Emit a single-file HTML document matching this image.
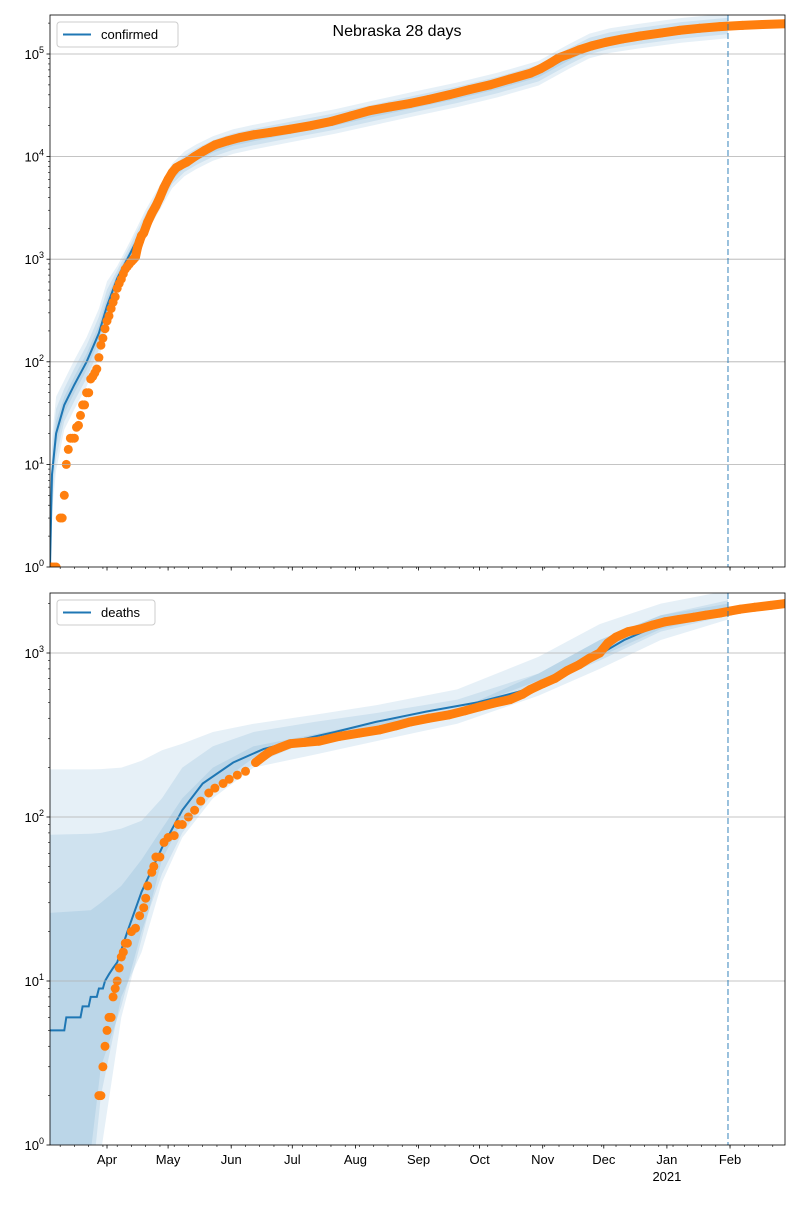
<!DOCTYPE html>
<html><head><meta charset="utf-8"><style>
body{margin:0;background:#fff}
svg{font-family:"Liberation Sans","DejaVu Sans",sans-serif}
</style></head><body>
<svg id="chart" width="800" height="1200" xmlns="http://www.w3.org/2000/svg">
<rect width="800" height="1200" fill="#fff"/>
<g id="g"></g>
</svg>
<script>
// day index = days since 2020-03-04
const monthDays=[28,58,89,119,150,181,211,242,272,303,334];
const monthLabels=["Apr","May","Jun","Jul","Aug","Sep","Oct","Nov","Dec","Jan","Feb"];
const forecastDay=333;
const confObsDays=[0,1,2,3,5,6,7,8,9,10,11,12,13,14,15,16,17,18,19,20,21,22,23,24,25,26,27,28,29,30,31,32,33,34,35,36,37,38,39,40,41,42,43,44,45,46,48,50,52,54,56,58,60,62,64,67,71,76,81,87,93,100,108,118,128,138,148,157,167,177,186,196,206,216,226,236,241,246,250,255,260,266,273,281,290,300,309,319,329,340,350,361];
const confObsVals=[1,1,1,1,3,3,5,10,14,18,18,18,23,24,30,38,38,50,50,68,72,78,85,110,145,170,210,250,280,330,380,430,520,580,640,720,800,850,900,950,1000,1050,1300,1500,1700,1800,2300,2800,3300,4000,5000,6000,7000,7800,8200,8800,10000,11500,13000,14200,15300,16300,17200,18500,20000,22000,25000,28000,30500,33000,36000,40000,45000,50000,57000,65000,72000,82000,92000,100000,110000,120000,130000,140000,150000,160000,170000,178000,185000,190000,194000,197000];
const confModelDays=[0,1,3,7,12,18,24,28,33,40,47,54,60,66,72,80,90,100,120,140,160,180,200,220,240,255,265,275,290,310,333,361];
const confModelVals=[1,8,20,38,60,100,190,350,650,1200,2300,4000,6500,8500,10000,12000,14000,15500,18500,22000,27000,33000,40000,50000,65000,95000,120000,135000,150000,170000,188000,198000];
const confBandW=[0.12,0.08,0.04];
const deathObsDays=[24,25,26,27,28,29,30,31,32,33,34,35,36,37,38,40,42,44,46,47,48,50,51,52,54,56,58,61,63,65,68,71,74,78,81,85,88,92,96,101,105,108,113,118,125,132,142,152,162,170,177,186,196,204,211,218,226,232,236,242,248,254,260,265,270,274,278,284,290,296,302,309,316,322,329,334,339,346,354,361];
const deathObsVals=[2,2,3,4,5,6,6,8,9,10,12,14,15,17,17,20,21,25,28,32,38,46,50,57,57,70,75,77,90,90,100,110,125,140,150,160,170,180,190,215,235,250,265,280,285,290,310,325,340,360,380,400,420,445,470,495,520,560,600,650,700,780,850,930,1000,1150,1250,1350,1400,1480,1550,1600,1650,1700,1750,1800,1850,1900,1950,2000];
const deathModelDays=[0,7,8,15,16,19,20,23,24,26,27,29,31,33,38,45,55,65,75,90,105,125,140,160,185,210,230,250,268,282,300,318,333,361];
const deathModelVals=[5,5,6,6,7,7,8,8,9,9,10,11,12,13,20,35,65,110,160,215,260,300,330,380,440,500,580,700,950,1200,1500,1700,1800,2050];
const deathBandDays=[0,20,25,35,45,55,65,80,100,130,160,200,240,270,300,333];
const deathB1Hi=[195,195,196,200,220,255,280,330,370,420,480,600,950,1500,2000,2400];
const deathB1Lo=[0.5,0.5,2,8,15,40,75,130,200,240,290,370,550,800,1200,1600];
const deathB2Hi=[78,79,80,85,95,130,200,270,330,380,430,520,750,1200,1700,2100];
const deathB2Lo=[0.5,0.9,3,7,20,45,80,140,210,300,350,420,620,900,1350,1700];
const deathB3Hi=[26,27,30,38,55,85,130,200,270,320,380,450,750,1200,1700,2000];
const deathB3Lo=[0.5,0.5,0.9,6,18,55,95,150,230,310,360,440,680,950,1400,1750];

const NS="http://www.w3.org/2000/svg";
const G=document.getElementById('g');
const L=50,R=785,SPAN=361;
const xs=d=>L+d*(R-L)/SPAN;
const panels=[{top:15,bot:567,y0:567,dec:102.6,maxd:5},{top:593,bot:1145,y0:1145,dec:164,maxd:3}];
function ys(p,v){return p.y0-Math.log10(v)*p.dec;}
function mk(tag,attrs,parent){const e=document.createElementNS(NS,tag);for(const k in attrs)e.setAttribute(k,attrs[k]);(parent||G).appendChild(e);return e;}
function clip(p,id){const c=mk('clipPath',{id:id});mk('rect',{x:L,y:p.top,width:R-L,height:p.bot-p.top},c);}
function band(p,days,hi,lo,op,par,name){
  let d='';
  days.forEach((t,i)=>{d+=(i?'L':'M')+xs(t).toFixed(1)+','+ys(p,hi[i]).toFixed(1);});
  for(let i=days.length-1;i>=0;i--)d+='L'+xs(days[i]).toFixed(1)+','+ys(p,lo[i]).toFixed(1);
  const e=mk('path',{d:d+'Z',fill:'#1f77b4','fill-opacity':op},par);
  
  
}
function line(p,days,vals,par,name){
  let d='';days.forEach((t,i)=>{d+=(i?'L':'M')+xs(t).toFixed(1)+','+ys(p,vals[i]).toFixed(1);});
  const e=mk('path',{d:d,fill:'none',stroke:'#1f77b4','stroke-width':2},par);
  
  
}
function dots(p,days,vals,par,name,joinFrom){
  const g=mk('g',{fill:'#ff7f0e'},par);
  
  
  let d='';
  days.forEach((t,i)=>{if(t>=joinFrom)d+=(d?'L':'M')+xs(t).toFixed(1)+','+ys(p,vals[i]).toFixed(1);});
  mk('path',{d:d,fill:'none',stroke:'#ff7f0e','stroke-width':9,'stroke-linecap':'round','stroke-linejoin':'round'},g);
  days.forEach((t,i)=>{
    const c=mk('circle',{cx:xs(t).toFixed(1),cy:ys(p,vals[i]).toFixed(1),r:4.5},g);
    
    
  });
}
function axes(p,idx,legend){
  for(let k=0;k<=p.maxd;k++){
    const y=ys(p,Math.pow(10,k));
    if(y>p.top&&y<p.bot){const gl=mk('line',{x1:L,x2:R,y1:y,y2:y,stroke:'#b0b0b0','stroke-width':0.8});
    }
  }
  const ax=mk('g',{});
  
  
  for(let k=0;k<=p.maxd+1;k++){
    for(let m=1;m<10;m++){
      const v=m*Math.pow(10,k),y=ys(p,v);
      if(y<p.top-0.5||y>p.bot+0.5)continue;
      mk('line',{x1:L,x2:L-(m==1?3.5:2),y1:y,y2:y,stroke:'#000','stroke-width':m==1?0.8:0.6},ax);
      if(m==1){
        const t=mk('text',{x:L-6,y:y+5,'text-anchor':'end','font-size':13},ax);
        t.textContent='10';
        const s=mk('tspan',{'font-size':9,dy:-6},t);s.textContent=String(k);
      }
    }
  }
  const xa=mk('g',{});
  
  
  for(let d=5;d<=SPAN;d+=7)mk('line',{x1:xs(d),x2:xs(d),y1:p.bot,y2:p.bot+2,stroke:'#000','stroke-width':0.6},xa);
  monthDays.forEach((d,i)=>{
    mk('line',{x1:xs(d),x2:xs(d),y1:p.bot,y2:p.bot+3.5,stroke:'#000','stroke-width':0.8},xa);
    if(idx==1){const t=mk('text',{x:xs(d),y:p.bot+19,'text-anchor':'middle','font-size':13},xa);t.textContent=monthLabels[i];}
  });
  if(idx==1){const t=mk('text',{x:xs(monthDays[9]),y:p.bot+36,'text-anchor':'middle','font-size':13},xa);t.textContent='2021';}
  const dl=mk('line',{x1:xs(forecastDay),x2:xs(forecastDay),y1:p.top,y2:p.bot,stroke:'#1f77b4','stroke-opacity':0.6,'stroke-width':1.5,'stroke-dasharray':'6,3'});
  
  const fr=mk('rect',{x:L,y:p.top,width:R-L,height:p.bot-p.top,fill:'none',stroke:'#000','stroke-width':0.8});
  
  const lg=mk('g',{});
  
  
  const w=idx?98:121;
  mk('rect',{x:57,y:p.top+7,width:w,height:25,rx:3,fill:'#fff','fill-opacity':0.8,stroke:'#ccc'},lg);
  mk('line',{x1:63,x2:91,y1:p.top+19.5,y2:p.top+19.5,stroke:'#1f77b4','stroke-width':2},lg);
  const t=mk('text',{x:101,y:p.top+24,'font-size':13},lg);t.textContent=legend;
}
const p0=panels[0],p1=panels[1];
clip(p0,'c0');clip(p1,'c1');
const g0=mk('g',{'clip-path':'url(#c0)'});

const bd=confModelDays.filter(d=>d<=forecastDay);
const bv=confModelVals.slice(0,bd.length);
confBandW.forEach((w,i)=>{
  const wd=bd.map((d,j)=>w*(j<3?3:(j<8?2:1)));
  band(p0,bd,bv.map((v,j)=>v*Math.pow(10,wd[j])),bv.map((v,j)=>Math.max(0.3,v/Math.pow(10,wd[j]))),0.11,g0,'confirmed-band-'+(i+1));
});
line(p0,confModelDays,confModelVals,g0,'confirmed-model-line');
dots(p0,confObsDays,confObsVals,g0,'confirmed-observations',40);
axes(p0,0,'confirmed');
const g1=mk('g',{'clip-path':'url(#c1)'});

band(p1,deathBandDays,deathB1Hi,deathB1Lo,0.11,g1,'deaths-band-outer');
band(p1,deathBandDays,deathB2Hi,deathB2Lo,0.11,g1,'deaths-band-middle');
band(p1,deathBandDays,deathB3Hi,deathB3Lo,0.11,g1,'deaths-band-inner');
line(p1,deathModelDays,deathModelVals,g1,'deaths-model-line');
dots(p1,deathObsDays,deathObsVals,g1,'deaths-observations',100);
axes(p1,1,'deaths');
const tt=mk('text',{x:397,y:36,'text-anchor':'middle','font-size':16});
tt.textContent='Nebraska 28 days';

</script>
</body></html>
